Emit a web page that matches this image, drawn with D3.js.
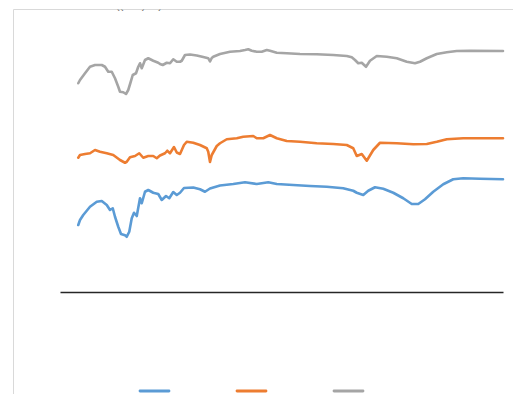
<!DOCTYPE html>
<html>
<head>
<meta charset="utf-8">
<script src="https://cdn.jsdelivr.net/npm/d3@7"></script>
<style>
  html, body { margin: 0; padding: 0; background: #fff; }
  svg { display: block; }
</style>
</head>
<body>
<svg id="chart" width="513" height="394"></svg>
<script>
// FTIR spectra: [wavenumber (cm-1), transmittance (a.u., offset)]
const seriesNames = ["Sample A", "Sample B", "Sample C"];
const seriesColors = ["#5B9BD5", "#ED7D31", "#A5A5A5"];

const sampleA = [
  [3998,26.8],[3984,28.8],[3958,30.8],[3904,34.1],[3850,36.1],[3810,36.4],[3770,34.8],
  [3744,32.8],[3722,33.5],[3704,30.1],[3678,26.1],[3656,23.2],[3624,22.7],[3610,22.1],
  [3590,24.1],[3570,29.5],[3552,31.7],[3530,30.4],[3504,37.5],[3490,35.5],[3464,40.1],
  [3438,40.8],[3398,39.7],[3358,39.2],[3330,36.8],[3296,38.4],[3270,37.5],[3238,40.0],
  [3210,38.8],[3184,39.7],[3152,41.6],[3078,41.8],[3024,41.1],[2984,40.1],[2944,41.4],
  [2864,42.6],[2758,43.2],[2664,43.9],[2570,43.2],[2478,43.9],[2410,43.2],[2278,42.8],
  [2144,42.4],[2010,42.1],[1878,41.5],[1798,40.5],[1770,39.7],[1718,38.8],[1678,40.5],
  [1624,41.9],[1558,41.3],[1478,39.7],[1398,37.5],[1330,35.2],[1278,35.2],[1224,37.1],
  [1158,40.1],[1078,43.1],[998,45.1],[918,45.5],[784,45.3],[600,45.1]
];

const sampleB = [
  [3998,53.7],[3984,54.8],[3944,55.2],[3904,55.5],[3864,56.8],[3824,56.1],[3770,55.5],
  [3718,54.8],[3664,52.8],[3624,51.7],[3610,52.1],[3584,53.9],[3544,54.4],[3510,55.5],
  [3478,53.7],[3438,54.4],[3398,54.4],[3370,53.5],[3344,54.6],[3304,55.5],[3286,56.5],
  [3264,55.5],[3232,58.0],[3210,55.8],[3184,55.2],[3152,58.8],[3130,60.1],[3078,59.7],
  [3024,58.8],[2970,57.5],[2958,56.1],[2944,52.0],[2930,54.8],[2890,58.4],[2864,59.5],
  [2810,61.1],[2730,61.5],[2678,62.1],[2598,62.4],[2570,61.5],[2518,61.5],[2464,62.8],
  [2410,61.5],[2330,60.4],[2224,60.1],[2090,59.5],[1958,59.2],[1850,58.8],[1798,57.5],
  [1770,54.4],[1730,55.2],[1690,52.5],[1638,56.8],[1584,59.7],[1450,59.5],[1318,59.1],
  [1210,59.2],[1130,60.1],[1050,61.1],[918,61.5],[600,61.5]
];

const sampleC = [
  [3998,83.5],[3984,84.8],[3944,87.5],[3904,90.1],[3864,90.8],[3810,90.8],[3784,90.1],
  [3758,88.1],[3730,88.1],[3704,85.5],[3678,82.1],[3664,80.1],[3638,79.9],[3616,79.2],
  [3598,80.8],[3578,84.1],[3562,86.8],[3536,87.5],[3518,90.1],[3504,91.5],[3490,89.5],
  [3464,92.8],[3438,93.5],[3398,92.5],[3358,91.7],[3344,91.2],[3322,90.8],[3290,91.7],
  [3264,91.5],[3238,93.1],[3210,92.1],[3184,92.1],[3170,92.5],[3144,94.8],[3104,95.0],
  [3050,94.6],[2998,94.0],[2958,93.5],[2944,92.2],[2930,93.6],[2918,94.1],[2864,95.2],
  [2784,96.1],[2704,96.4],[2664,96.8],[2638,97.1],[2610,96.5],[2570,96.1],[2530,96.1],
  [2490,96.8],[2464,96.5],[2410,95.7],[2330,95.5],[2224,95.2],[2090,95.1],[1958,94.8],
  [1850,94.4],[1810,93.9],[1784,92.8],[1758,91.5],[1730,91.7],[1696,90.1],[1664,92.5],
  [1610,94.4],[1530,94.1],[1450,93.5],[1370,92.1],[1304,91.5],[1264,92.1],[1210,93.5],
  [1130,95.2],[1050,95.9],[970,96.4],[864,96.5],[600,96.4]
];

const allSeries = [sampleA, sampleB, sampleC];

const svg = d3.select("#chart");

// chart frame
svg.append("path")
  .attr("d", "M13.5,394 V9.5 H513")
  .attr("fill", "none")
  .attr("stroke", "#d9d9d9")
  .attr("stroke-width", 1);

// title (sits above the frame edge, clipped to the frame)
svg.append("clipPath").attr("id", "titleClip")
  .append("rect").attr("x", 0).attr("y", 9.6).attr("width", 513).attr("height", 20);
const title = svg.append("g").attr("clip-path", "url(#titleClip)")
  .attr("font-family", "Liberation Sans, Arial, sans-serif")
  .attr("font-size", 11).attr("fill", "#595959");
title.append("text").attr("x", 114).attr("y", 9.3).attr("text-anchor", "end")
  .text("FTIR Transmittance");
title.append("text").attr("x", 116).attr("y", 9.3).text("((a.u.) %)");

// scales
const x = d3.scaleLinear().domain([4000, 600]).range([78, 503]);
const y = d3.scaleLinear().domain([0, 100]).range([292, 42]);

// horizontal axis line at zero
svg.append("g")
  .attr("transform", `translate(0,${y(0)})`)
  .call(d3.axisBottom(d3.scaleLinear().domain([0, 1]).range([60, 503])).ticks(0).tickSize(0).tickFormat(""))
  .call(g => g.select(".domain").attr("stroke", "#262626").attr("stroke-width", 1.5));

const line = d3.line()
  .x(d => x(d[0]))
  .y(d => y(d[1]));

svg.append("g").selectAll("path")
  .data(allSeries)
  .join("path")
  .attr("d", line)
  .attr("fill", "none")
  .attr("stroke", (d, i) => seriesColors[i])
  .attr("stroke-width", 2.6)
  .attr("stroke-linejoin", "round")
  .attr("stroke-linecap", "round");

// legend swatches
const legendX = d3.scalePoint().domain(seriesNames).range([140, 334]);
svg.append("g").selectAll("line")
  .data(seriesNames)
  .join("line")
  .attr("x1", d => legendX(d))
  .attr("x2", d => legendX(d) + 29)
  .attr("y1", 391).attr("y2", 391)
  .attr("stroke", (d, i) => seriesColors[i])
  .attr("stroke-width", 2.8)
  .attr("stroke-linecap", "round");
</script>
</body>
</html>
